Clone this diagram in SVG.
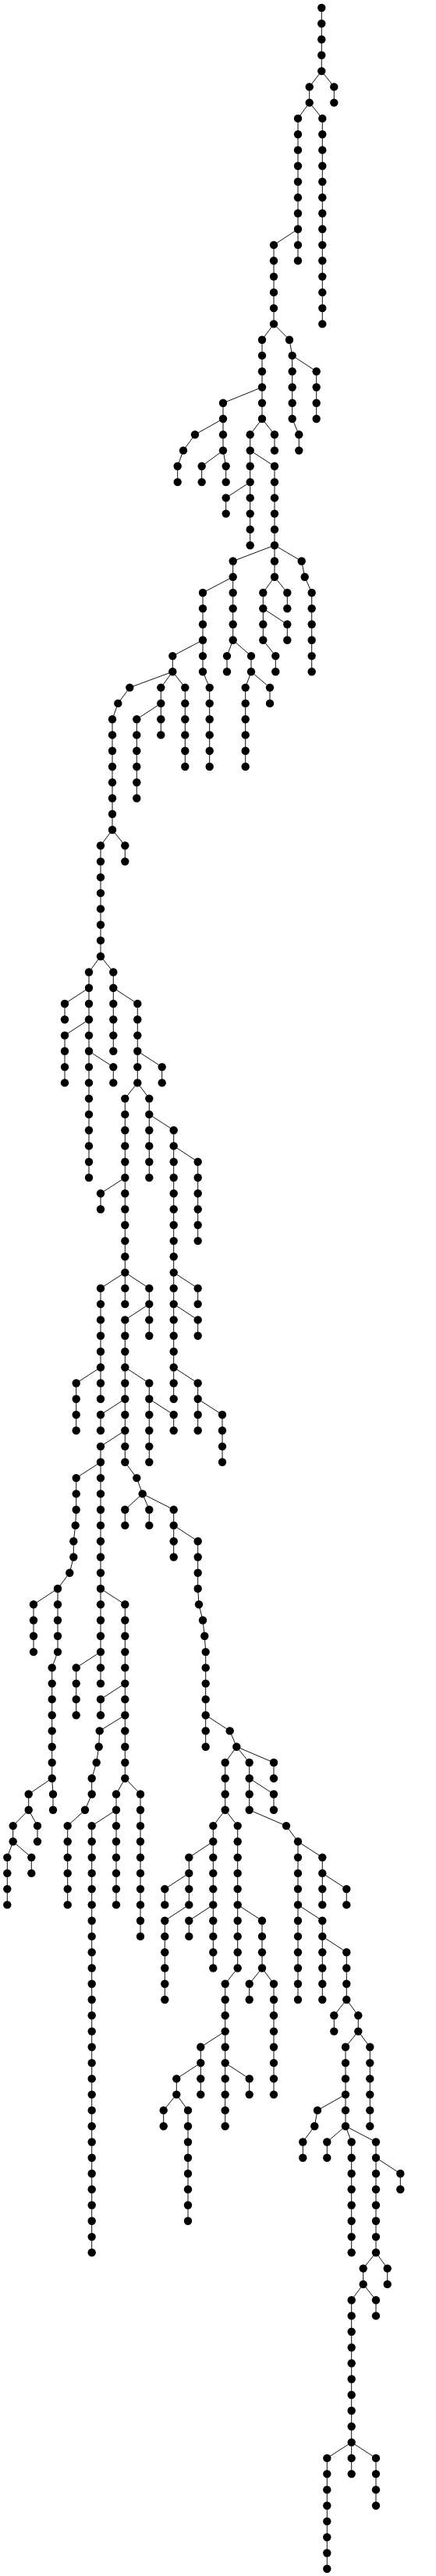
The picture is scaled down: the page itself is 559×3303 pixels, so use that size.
<svg xmlns="http://www.w3.org/2000/svg" width="559" height="3303" viewBox="0 0 559 3303">
<style>
#edges path{fill:none;stroke:#111;stroke-width:1}
#nodes circle{r:5.2px;fill:#000}
</style>
<rect width="559" height="3303" fill="#fff"/>
<g id="edges">
<path d="M412.3 10V30.3"/><path d="M412.3 30.3V50.5"/><path d="M412.3 50.5V70.8"/><path d="M412.3 70.8V91.1"/>
<path d="M412.3 91.1L396.7 111.4"/><path d="M396.7 111.4V131.6"/>
<path d="M412.3 91.1L428.3 111.4"/><path d="M428.3 111.4V131.6"/>
<path d="M396.7 131.6L382 151.9"/><path d="M382 151.9V172.2"/><path d="M382 172.2V192.4"/><path d="M382 192.4V212.7"/><path d="M382 212.7V233"/><path d="M382 233V253.2"/><path d="M382 253.2V273.5"/><path d="M382 273.5V293.8"/>
<path d="M396.7 131.6L413.3 151.9"/><path d="M413.3 151.9V172.2"/><path d="M413.3 172.2V192.4"/><path d="M413.3 192.4V212.7"/><path d="M413.3 212.7V233"/><path d="M413.3 233V253.2"/><path d="M413.3 253.2V273.5"/><path d="M413.3 273.5V293.8"/><path d="M413.3 293.8V314.1"/><path d="M413.3 314.1V334.3"/><path d="M413.3 334.3V354.6"/><path d="M413.3 354.6V374.9"/><path d="M413.3 374.9V395.1"/><path d="M413.3 395.1V415.4"/>
<path d="M382 293.8L351 314.1"/><path d="M351 314.1V334.3"/><path d="M351 334.3V354.6"/><path d="M351 354.6V374.9"/><path d="M351 374.9V395.1"/><path d="M351 395.1V415.4"/>
<path d="M382 293.8V314.1"/><path d="M382 314.1V334.3"/>
<path d="M351 415.4L336 435.7"/><path d="M336 435.7V455.9"/><path d="M336 455.9V476.2"/><path d="M336 476.2V496.5"/>
<path d="M351 415.4L371 435.7"/>
<path d="M371 435.7L374.7 455.9"/><path d="M374.7 455.9V476.2"/><path d="M374.7 476.2V496.5"/><path d="M374.7 496.5V516.8"/><path d="M374.7 516.8V537"/>
<path d="M374.7 455.9L405.7 476.2"/><path d="M405.7 476.2V496.5"/><path d="M405.7 496.5V516.8"/><path d="M405.7 516.8V537"/>
<path d="M374.7 537L383.3 557.3"/><path d="M383.3 557.3V577.6"/>
<path d="M336 496.5L286 516.8"/><path d="M286 516.8V537"/>
<path d="M336 496.5V516.8"/><path d="M336 516.8V537"/>
<path d="M286 537L250 557.3"/><path d="M250 557.3L235 577.6"/><path d="M235 577.6L227.7 597.8"/><path d="M227.7 597.8V618.1"/>
<path d="M286 537V557.3"/><path d="M286 557.3V577.6"/>
<path d="M286 577.6L258.7 597.8"/><path d="M258.7 597.8V618.1"/>
<path d="M286 577.6L289.7 597.8"/><path d="M289.7 597.8V618.1"/>
<path d="M336 537L320.7 557.3"/><path d="M320.7 557.3V577.6"/><path d="M320.7 577.6V597.8"/><path d="M320.7 597.8V618.1"/><path d="M320.7 618.1V638.4"/><path d="M320.7 638.4V658.6"/><path d="M320.7 658.6V678.9"/><path d="M320.7 678.9V699.2"/>
<path d="M336 537L352 557.3"/><path d="M352 557.3V577.6"/>
<path d="M320.7 577.6L352 597.8"/><path d="M352 597.8V618.1"/><path d="M352 618.1V638.4"/><path d="M352 638.4V658.6"/><path d="M352 658.6V678.9"/><path d="M352 678.9V699.2"/><path d="M352 699.2V719.5"/><path d="M352 719.5V739.7"/>
<path d="M320.7 618.1L289.7 638.4"/><path d="M289.7 638.4V658.6"/>
<path d="M352 699.2L298.7 719.5"/><path d="M298.7 719.5V739.7"/><path d="M298.7 739.7V760"/><path d="M298.7 760V780.3"/><path d="M298.7 780.3V800.5"/><path d="M298.7 800.5V820.8"/>
<path d="M352 699.2L386.7 719.5"/><path d="M386.7 719.5L390.7 739.7"/><path d="M390.7 739.7L399.7 760"/><path d="M399.7 760V780.3"/><path d="M399.7 780.3V800.5"/><path d="M399.7 800.5V820.8"/><path d="M399.7 820.8V841.1"/><path d="M399.7 841.1V861.3"/>
<path d="M352 739.7L337.3 760"/><path d="M337.3 760V780.3"/><path d="M337.3 780.3V800.5"/><path d="M337.3 800.5V820.8"/>
<path d="M352 739.7L368.3 760"/><path d="M368.3 760V780.3"/>
<path d="M337.3 780.3L368.3 800.5"/><path d="M368.3 800.5V820.8"/>
<path d="M337.3 820.8L353.3 841.1"/><path d="M353.3 841.1V861.3"/>
<path d="M298.7 739.7L260 760"/><path d="M260 760V780.3"/><path d="M260 780.3V800.5"/><path d="M260 800.5V820.8"/><path d="M260 820.8V841.1"/><path d="M260 841.1V861.3"/>
<path d="M298.7 820.8L291 841.1"/><path d="M291 841.1V861.3"/>
<path d="M298.7 820.8L322 841.1"/><path d="M322 841.1V861.3"/>
<path d="M322 861.3L314.7 881.6"/><path d="M314.7 881.6V901.9"/><path d="M314.7 901.9V922.2"/><path d="M314.7 922.2V942.4"/><path d="M314.7 942.4V962.7"/><path d="M314.7 962.7V983"/>
<path d="M322 861.3L346 881.6"/><path d="M346 881.6V901.9"/>
<path d="M260 861.3L268.7 881.6"/><path d="M268.7 881.6V901.9"/><path d="M268.7 901.9V922.2"/><path d="M268.7 922.2V942.4"/><path d="M268.7 942.4V962.7"/><path d="M268.7 962.7V983"/>
<path d="M260 820.8L221.3 841.1"/><path d="M221.3 841.1V861.3"/>
<path d="M221.3 861.3L166.3 881.6"/>
<path d="M221.3 861.3L206.3 881.6"/><path d="M206.3 881.6V901.9"/><path d="M206.3 901.9V922.2"/><path d="M206.3 922.2V942.4"/>
<path d="M221.3 861.3L237.3 881.6"/><path d="M237.3 881.6V901.9"/><path d="M237.3 901.9V922.2"/><path d="M237.3 922.2V942.4"/><path d="M237.3 942.4V962.7"/><path d="M237.3 962.7V983"/>
<path d="M206.3 901.9L175.3 922.2"/><path d="M175.3 922.2V942.4"/><path d="M175.3 942.4V962.7"/><path d="M175.3 962.7V983"/><path d="M175.3 983V1003.2"/><path d="M175.3 1003.2V1023.5"/>
<path d="M166.3 881.6L151.3 901.9"/><path d="M151.3 901.9L144 922.2"/><path d="M144 922.2V942.4"/><path d="M144 942.4V962.7"/><path d="M144 962.7V983"/><path d="M144 983V1003.2"/><path d="M144 1003.2V1023.5"/><path d="M144 1023.5V1043.8"/><path d="M144 1043.8V1064"/>
<path d="M144 1064L160.3 1084.3"/><path d="M160.3 1084.3V1104.6"/>
<path d="M144 1064L129 1084.3"/><path d="M129 1084.3V1104.6"/><path d="M129 1104.6V1124.9"/><path d="M129 1124.9V1145.1"/><path d="M129 1145.1V1165.4"/><path d="M129 1165.4V1185.7"/><path d="M129 1185.7V1205.9"/><path d="M129 1205.9V1226.2"/>
<path d="M129 1226.2L114 1246.5"/><path d="M114 1246.5V1266.7"/><path d="M114 1266.7V1287"/><path d="M114 1287V1307.3"/><path d="M114 1307.3V1327.6"/><path d="M114 1327.6V1347.8"/><path d="M114 1347.8V1368.1"/><path d="M114 1368.1V1388.4"/><path d="M114 1388.4V1408.6"/><path d="M114 1408.6V1428.9"/><path d="M114 1428.9V1449.2"/><path d="M114 1449.2V1469.4"/><path d="M114 1469.4V1489.7"/><path d="M114 1489.7V1510"/>
<path d="M114 1266.7L83 1287"/><path d="M83 1287V1307.3"/>
<path d="M114 1307.3L83 1327.6"/><path d="M83 1327.6V1347.8"/><path d="M83 1347.8V1368.1"/><path d="M83 1368.1V1388.4"/>
<path d="M114 1347.8L145.3 1368.1"/><path d="M145.3 1368.1V1388.4"/>
<path d="M129 1226.2L145.3 1246.5"/><path d="M145.3 1246.5V1266.7"/><path d="M145.3 1266.7V1287"/><path d="M145.3 1287V1307.3"/><path d="M145.3 1307.3V1327.6"/><path d="M145.3 1327.6V1347.8"/>
<path d="M145.3 1266.7L176.3 1287"/><path d="M176.3 1287V1307.3"/><path d="M176.3 1307.3V1327.6"/><path d="M176.3 1327.6V1347.8"/><path d="M176.3 1347.8V1368.1"/><path d="M176.3 1368.1V1388.4"/>
<path d="M176.3 1347.8L207.7 1368.1"/><path d="M207.7 1368.1V1388.4"/>
<path d="M176.3 1388.4L160.3 1408.6"/><path d="M160.3 1408.6V1428.9"/><path d="M160.3 1428.9V1449.2"/><path d="M160.3 1449.2V1469.4"/><path d="M160.3 1469.4V1489.7"/><path d="M160.3 1489.7V1510"/><path d="M160.3 1510V1530.3"/><path d="M160.3 1530.3V1550.5"/><path d="M160.3 1550.5V1570.8"/><path d="M160.3 1570.8V1591.1"/><path d="M160.3 1591.1V1611.3"/><path d="M160.3 1611.3V1631.6"/><path d="M160.3 1631.6V1651.9"/><path d="M160.3 1651.9V1672.1"/>
<path d="M160.3 1510L129 1530.3"/><path d="M129 1530.3V1550.5"/>
<path d="M160.3 1631.6L129 1651.9"/><path d="M129 1651.9V1672.1"/><path d="M129 1672.1V1692.4"/><path d="M129 1692.4V1712.7"/><path d="M129 1712.7V1733"/><path d="M129 1733V1753.2"/><path d="M129 1753.2V1773.5"/><path d="M129 1773.5V1793.8"/>
<path d="M160.3 1631.6L191.3 1651.9"/><path d="M191.3 1651.9V1672.1"/><path d="M191.3 1672.1V1692.4"/><path d="M191.3 1692.4V1712.7"/>
<path d="M191.3 1672.1L160.3 1692.4"/><path d="M160.3 1692.4V1712.7"/><path d="M160.3 1712.7V1733"/><path d="M160.3 1733V1753.2"/><path d="M160.3 1753.2V1773.5"/><path d="M160.3 1773.5V1793.8"/><path d="M160.3 1793.8V1814"/><path d="M160.3 1814V1834.3"/><path d="M160.3 1834.3V1854.6"/><path d="M160.3 1854.6V1874.8"/>
<path d="M160.3 1874.8L175.3 1895.1"/><path d="M175.3 1895.1L182.7 1915.4"/>
<path d="M129 1753.2L97.7 1773.5"/><path d="M97.7 1773.5V1793.8"/><path d="M97.7 1793.8V1814"/><path d="M97.7 1814V1834.3"/>
<path d="M160.3 1753.2L191.3 1773.5"/><path d="M191.3 1773.5V1793.8"/><path d="M191.3 1793.8V1814"/><path d="M191.3 1814V1834.3"/><path d="M191.3 1834.3V1854.6"/><path d="M191.3 1854.6V1874.8"/>
<path d="M191.3 1793.8L222.7 1814"/><path d="M222.7 1814V1834.3"/>
<path d="M160.3 1793.8L129 1814"/><path d="M129 1814V1834.3"/>
<path d="M160.3 1834.3L129 1854.6"/><path d="M129 1854.6V1874.8"/><path d="M129 1874.8V1895.1"/><path d="M129 1895.1V1915.4"/><path d="M129 1915.4V1935.7"/><path d="M129 1935.7V1955.9"/><path d="M129 1955.9V1976.2"/><path d="M129 1976.2V1996.5"/><path d="M129 1996.5V2016.7"/><path d="M129 2016.7V2037"/><path d="M129 2037V2057.3"/><path d="M129 2057.3V2077.5"/><path d="M129 2077.5V2097.8"/><path d="M129 2097.8V2118.1"/><path d="M129 2118.1V2138.4"/><path d="M129 2138.4V2158.6"/>
<path d="M129 1874.8L97.7 1895.1"/><path d="M97.7 1895.1V1915.4"/><path d="M97.7 1915.4V1935.7"/><path d="M97.7 1935.7L96.7 1955.9"/><path d="M96.7 1955.9L94.3 1976.2"/><path d="M94.3 1976.2V1996.5"/><path d="M94.3 1996.5L89.3 2016.7"/><path d="M89.3 2016.7L74 2037"/><path d="M74 2037V2057.3"/><path d="M74 2057.3V2077.5"/><path d="M74 2077.5V2097.8"/><path d="M74 2097.8V2118.1"/>
<path d="M74 2037L43 2057.3"/><path d="M43 2057.3V2077.5"/><path d="M43 2077.5V2097.8"/><path d="M43 2097.8V2118.1"/>
<path d="M74 2118.1L66.7 2138.4"/><path d="M66.7 2138.4V2158.6"/><path d="M66.7 2158.6V2178.9"/><path d="M66.7 2178.9V2199.2"/><path d="M66.7 2199.2V2219.4"/><path d="M66.7 2219.4V2239.7"/><path d="M66.7 2239.7V2260"/><path d="M66.7 2260V2280.2"/>
<path d="M66.7 2280.2L68 2300.5"/><path d="M68 2300.5V2320.8"/>
<path d="M66.7 2280.2L36.7 2300.5"/><path d="M36.7 2300.5V2320.8"/>
<path d="M36.7 2320.8L48 2341.1"/><path d="M48 2341.1V2361.3"/>
<path d="M36.7 2320.8L16.7 2341.1"/><path d="M16.7 2341.1V2361.3"/>
<path d="M16.7 2361.3L40.3 2381.6"/><path d="M40.3 2381.6V2401.9"/>
<path d="M16.7 2361.3L9.3 2381.6"/><path d="M9.3 2381.6V2401.9"/><path d="M9.3 2401.9V2422.1"/><path d="M9.3 2422.1V2442.4"/>
<path d="M129 2037L160.3 2057.3"/><path d="M160.3 2057.3V2077.5"/><path d="M160.3 2077.5V2097.8"/><path d="M160.3 2097.8V2118.1"/><path d="M160.3 2118.1V2138.4"/><path d="M160.3 2138.4V2158.6"/><path d="M160.3 2158.6V2178.9"/><path d="M160.3 2178.9V2199.2"/><path d="M160.3 2199.2V2219.4"/><path d="M160.3 2219.4V2239.7"/><path d="M160.3 2239.7V2260"/><path d="M160.3 2260V2280.2"/>
<path d="M129 2118.1L97.7 2138.4"/><path d="M97.7 2138.4V2158.6"/><path d="M97.7 2158.6V2178.9"/><path d="M97.7 2178.9V2199.2"/>
<path d="M160.3 2158.6L129 2178.9"/><path d="M129 2178.9V2199.2"/>
<path d="M160.3 2199.2L127.7 2219.4"/><path d="M127.7 2219.4L126.7 2239.7"/><path d="M126.7 2239.7L123.7 2260"/><path d="M123.7 2260L117.7 2280.2"/><path d="M117.7 2280.2V2300.5"/><path d="M117.7 2300.5L109 2320.8"/><path d="M109 2320.8L86.7 2341.1"/><path d="M86.7 2341.1V2361.3"/><path d="M86.7 2361.3V2381.6"/><path d="M86.7 2381.6V2401.9"/><path d="M86.7 2401.9V2422.1"/><path d="M86.7 2422.1V2442.4"/>
<path d="M160.3 2280.2L149 2300.5"/><path d="M149 2300.5V2320.8"/><path d="M149 2320.8V2341.1"/><path d="M149 2341.1V2361.3"/><path d="M149 2361.3V2381.6"/><path d="M149 2381.6V2401.9"/><path d="M149 2401.9V2422.1"/><path d="M149 2422.1V2442.4"/>
<path d="M160.3 2280.2L180 2300.5"/><path d="M180 2300.5V2320.8"/><path d="M180 2320.8V2341.1"/><path d="M180 2341.1V2361.3"/><path d="M180 2361.3V2381.6"/><path d="M180 2381.6V2401.9"/><path d="M180 2401.9V2422.1"/><path d="M180 2422.1V2442.4"/><path d="M180 2442.4V2462.7"/><path d="M180 2462.7V2482.9"/>
<path d="M149 2320.8L117.7 2341.1"/><path d="M117.7 2341.1V2361.3"/><path d="M117.7 2361.3V2381.6"/><path d="M117.7 2381.6V2401.9"/><path d="M117.7 2401.9V2422.1"/><path d="M117.7 2422.1V2442.4"/><path d="M117.7 2442.4V2462.7"/><path d="M117.7 2462.7V2482.9"/><path d="M117.7 2482.9V2503.2"/><path d="M117.7 2503.2V2523.5"/><path d="M117.7 2523.5V2543.8"/><path d="M117.7 2543.8V2564"/><path d="M117.7 2564V2584.3"/><path d="M117.7 2584.3V2604.6"/><path d="M117.7 2604.6V2624.8"/><path d="M117.7 2624.8V2645.1"/><path d="M117.7 2645.1V2665.4"/><path d="M117.7 2665.4V2685.6"/><path d="M117.7 2685.6V2705.9"/><path d="M117.7 2705.9V2726.2"/><path d="M117.7 2726.2V2746.5"/><path d="M117.7 2746.5V2766.7"/><path d="M117.7 2766.7V2787"/><path d="M117.7 2787V2807.3"/><path d="M117.7 2807.3V2827.5"/><path d="M117.7 2827.5V2847.8"/><path d="M117.7 2847.8V2868.1"/><path d="M117.7 2868.1V2888.3"/>
<path d="M191.3 1428.9L222.7 1449.2"/><path d="M222.7 1449.2V1469.4"/><path d="M222.7 1469.4V1489.7"/><path d="M222.7 1489.7V1510"/><path d="M222.7 1510V1530.3"/><path d="M222.7 1530.3V1550.5"/><path d="M222.7 1550.5V1570.8"/><path d="M222.7 1570.8V1591.1"/><path d="M222.7 1591.1V1611.3"/><path d="M222.7 1611.3V1631.6"/><path d="M222.7 1631.6V1651.9"/><path d="M222.7 1651.9V1672.1"/><path d="M222.7 1672.1V1692.4"/><path d="M222.7 1692.4V1712.7"/><path d="M222.7 1712.7V1733"/><path d="M222.7 1733V1753.2"/><path d="M222.7 1753.2V1773.5"/><path d="M222.7 1773.5V1793.8"/>
<path d="M176.3 1388.4L191.3 1408.6"/><path d="M191.3 1408.6V1428.9"/><path d="M191.3 1428.9V1449.2"/><path d="M191.3 1449.2V1469.4"/><path d="M191.3 1469.4V1489.7"/><path d="M191.3 1489.7V1510"/>
<path d="M222.7 1469.4L253.7 1489.7"/><path d="M253.7 1489.7V1510"/><path d="M253.7 1510V1530.3"/><path d="M253.7 1530.3V1550.5"/><path d="M253.7 1550.5V1570.8"/><path d="M253.7 1570.8V1591.1"/>
<path d="M222.7 1631.6L253.7 1651.9"/><path d="M253.7 1651.9V1672.1"/>
<path d="M222.7 1672.1L253.7 1692.4"/><path d="M253.7 1692.4V1712.7"/>
<path d="M222.7 1753.2L253.7 1773.5"/><path d="M253.7 1773.5V1793.8"/><path d="M253.7 1793.8V1814"/><path d="M253.7 1814V1834.3"/>
<path d="M253.7 1793.8L285 1814"/><path d="M285 1814V1834.3"/><path d="M285 1834.3V1854.6"/><path d="M285 1854.6V1874.8"/>
<path d="M182.7 1915.4L160.3 1935.7"/><path d="M160.3 1935.7V1955.9"/>
<path d="M182.7 1915.4L191.3 1935.7"/><path d="M191.3 1935.7V1955.9"/>
<path d="M182.7 1915.4L222.7 1935.7"/><path d="M222.7 1935.7V1955.9"/><path d="M222.7 1955.9V1976.2"/><path d="M222.7 1976.2V1996.5"/>
<path d="M222.7 1955.9L253.7 1976.2"/><path d="M253.7 1976.2V1996.5"/><path d="M253.7 1996.5V2016.7"/><path d="M253.7 2016.7V2037"/><path d="M253.7 2037L255 2057.3"/><path d="M255 2057.3L260 2077.5"/><path d="M260 2077.5L262.3 2097.8"/><path d="M262.3 2097.8L263.7 2118.1"/><path d="M263.7 2118.1V2138.4"/><path d="M263.7 2138.4V2158.6"/><path d="M263.7 2158.6V2178.9"/><path d="M263.7 2178.9V2199.2"/><path d="M263.7 2199.2V2219.4"/><path d="M263.7 2219.4V2239.7"/>
<path d="M263.7 2199.2L294.7 2219.4"/><path d="M294.7 2219.4L303.3 2239.7"/>
<path d="M303.3 2239.7L288.7 2260"/><path d="M288.7 2260V2280.2"/><path d="M288.7 2280.2V2300.5"/><path d="M288.7 2300.5V2320.8"/>
<path d="M303.3 2239.7L319.7 2260"/><path d="M319.7 2260V2280.2"/><path d="M319.7 2280.2V2300.5"/><path d="M319.7 2300.5V2320.8"/>
<path d="M303.3 2239.7L351 2260"/><path d="M351 2260V2280.2"/>
<path d="M319.7 2280.2L351 2300.5"/><path d="M351 2300.5V2320.8"/>
<path d="M319.7 2320.8L367 2341.1"/><path d="M367 2341.1L382 2361.3"/><path d="M382 2361.3V2381.6"/><path d="M382 2381.6V2401.9"/><path d="M382 2401.9V2422.1"/><path d="M382 2422.1V2442.4"/><path d="M382 2442.4V2462.7"/><path d="M382 2462.7V2482.9"/><path d="M382 2482.9V2503.2"/><path d="M382 2503.2V2523.5"/><path d="M382 2523.5V2543.8"/><path d="M382 2543.8V2564"/>
<path d="M382 2361.3L413.3 2381.6"/><path d="M413.3 2381.6V2401.9"/><path d="M413.3 2401.9V2422.1"/><path d="M413.3 2422.1V2442.4"/>
<path d="M413.3 2401.9L444.3 2422.1"/><path d="M444.3 2422.1V2442.4"/>
<path d="M382 2442.4L413.3 2462.7"/><path d="M413.3 2462.7V2482.9"/><path d="M413.3 2482.9V2503.2"/><path d="M413.3 2503.2V2523.5"/><path d="M413.3 2523.5V2543.8"/><path d="M413.3 2543.8V2564"/>
<path d="M413.3 2482.9L444.3 2503.2"/><path d="M444.3 2503.2V2523.5"/><path d="M444.3 2523.5V2543.8"/><path d="M444.3 2543.8V2564"/>
<path d="M444.3 2564L428.3 2584.3"/><path d="M428.3 2584.3V2604.6"/>
<path d="M444.3 2564L459.3 2584.3"/><path d="M459.3 2584.3V2604.6"/>
<path d="M459.3 2604.6L474.3 2624.8"/><path d="M474.3 2624.8V2645.1"/><path d="M474.3 2645.1V2665.4"/><path d="M474.3 2665.4V2685.6"/><path d="M474.3 2685.6V2705.9"/><path d="M474.3 2705.9V2726.2"/>
<path d="M459.3 2604.6L443 2624.8"/><path d="M443 2624.8V2645.1"/><path d="M443 2645.1V2665.4"/><path d="M443 2665.4V2685.6"/><path d="M443 2685.6V2705.9"/><path d="M443 2705.9V2726.2"/>
<path d="M443 2685.6L407 2705.9"/><path d="M407 2705.9L403.3 2726.2"/><path d="M403.3 2726.2L388.3 2746.5"/><path d="M388.3 2746.5V2766.7"/>
<path d="M443 2726.2L419.3 2746.5"/><path d="M419.3 2746.5V2766.7"/>
<path d="M443 2726.2L450.7 2746.5"/><path d="M450.7 2746.5V2766.7"/><path d="M450.7 2766.7V2787"/><path d="M450.7 2787V2807.3"/><path d="M450.7 2807.3V2827.5"/><path d="M450.7 2827.5V2847.8"/><path d="M450.7 2847.8V2868.1"/><path d="M450.7 2868.1V2888.3"/>
<path d="M443 2726.2L482 2746.5"/><path d="M482 2746.5V2766.7"/><path d="M482 2766.7V2787"/><path d="M482 2787V2807.3"/><path d="M482 2807.3V2827.5"/><path d="M482 2827.5V2847.8"/><path d="M482 2847.8V2868.1"/><path d="M482 2868.1V2888.3"/>
<path d="M482 2766.7L513.3 2787"/><path d="M513.3 2787V2807.3"/>
<path d="M482 2888.3L465.7 2908.6"/><path d="M465.7 2908.6V2928.9"/>
<path d="M482 2888.3L496.7 2908.6"/><path d="M496.7 2908.6V2928.9"/>
<path d="M465.7 2928.9L450.7 2949.2"/><path d="M450.7 2949.2V2969.4"/><path d="M450.7 2969.4V2989.7"/><path d="M450.7 2989.7V3010"/><path d="M450.7 3010V3030.2"/><path d="M450.7 3030.2V3050.5"/><path d="M450.7 3050.5V3070.8"/><path d="M450.7 3070.8V3091"/><path d="M450.7 3091V3111.3"/><path d="M450.7 3111.3V3131.6"/>
<path d="M465.7 2928.9L482 2949.2"/><path d="M482 2949.2V2969.4"/>
<path d="M450.7 3131.6L419.3 3151.9"/><path d="M419.3 3151.9V3172.1"/><path d="M419.3 3172.1V3192.4"/><path d="M419.3 3192.4V3212.7"/><path d="M419.3 3212.7V3232.9"/><path d="M419.3 3232.9V3253.2"/><path d="M419.3 3253.2V3273.5"/><path d="M419.3 3273.5V3293.7"/>
<path d="M450.7 3131.6V3151.9"/><path d="M450.7 3151.9V3172.1"/>
<path d="M450.7 3131.6L482 3151.9"/><path d="M482 3151.9V3172.1"/><path d="M482 3172.1V3192.4"/><path d="M482 3192.4V3212.7"/>
<path d="M288.7 2320.8L273.3 2341.1"/><path d="M273.3 2341.1V2361.3"/><path d="M273.3 2361.3V2381.6"/><path d="M273.3 2381.6V2401.9"/><path d="M273.3 2401.9V2422.1"/><path d="M273.3 2422.1V2442.4"/><path d="M273.3 2442.4V2462.7"/><path d="M273.3 2462.7V2482.9"/><path d="M273.3 2482.9V2503.2"/><path d="M273.3 2503.2V2523.5"/>
<path d="M288.7 2320.8L304.7 2341.1"/><path d="M304.7 2341.1V2361.3"/><path d="M304.7 2361.3V2381.6"/><path d="M304.7 2381.6V2401.9"/><path d="M304.7 2401.9V2422.1"/><path d="M304.7 2422.1V2442.4"/><path d="M304.7 2442.4V2462.7"/><path d="M304.7 2462.7V2482.9"/><path d="M304.7 2482.9V2503.2"/><path d="M304.7 2503.2V2523.5"/>
<path d="M304.7 2442.4L336 2462.7"/><path d="M336 2462.7V2482.9"/><path d="M336 2482.9V2503.2"/><path d="M336 2503.2V2523.5"/>
<path d="M336 2523.5L319.7 2543.8"/><path d="M319.7 2543.8V2564"/>
<path d="M336 2523.5L351 2543.8"/><path d="M351 2543.8V2564"/><path d="M351 2564V2584.3"/><path d="M351 2584.3V2604.6"/><path d="M351 2604.6V2624.8"/><path d="M351 2624.8V2645.1"/><path d="M351 2645.1V2665.4"/><path d="M351 2665.4V2685.6"/>
<path d="M304.7 2523.5L288.7 2543.8"/><path d="M288.7 2543.8V2564"/><path d="M288.7 2564V2584.3"/><path d="M288.7 2584.3V2604.6"/><path d="M288.7 2604.6V2624.8"/><path d="M288.7 2624.8V2645.1"/><path d="M288.7 2645.1V2665.4"/><path d="M288.7 2665.4V2685.6"/><path d="M288.7 2685.6V2705.9"/><path d="M288.7 2705.9V2726.2"/>
<path d="M288.7 2604.6L257.3 2624.8"/><path d="M257.3 2624.8V2645.1"/><path d="M257.3 2645.1V2665.4"/><path d="M257.3 2665.4V2685.6"/>
<path d="M288.7 2645.1L319.7 2665.4"/><path d="M319.7 2665.4V2685.6"/>
<path d="M257.3 2645.1L226.3 2665.4"/><path d="M226.3 2665.4V2685.6"/>
<path d="M226.3 2685.6L209.7 2705.9"/><path d="M209.7 2705.9V2726.2"/>
<path d="M226.3 2685.6L241 2705.9"/><path d="M241 2705.9V2726.2"/><path d="M241 2726.2V2746.5"/><path d="M241 2746.5V2766.7"/><path d="M241 2766.7V2787"/><path d="M241 2787V2807.3"/><path d="M241 2807.3V2827.5"/><path d="M241 2827.5V2847.8"/>
<path d="M273.3 2361.3L242.3 2381.6"/><path d="M242.3 2381.6V2401.9"/><path d="M242.3 2401.9V2422.1"/><path d="M242.3 2422.1V2442.4"/>
<path d="M242.3 2401.9L211.3 2422.1"/><path d="M211.3 2422.1V2442.4"/>
<path d="M242.3 2442.4L211.3 2462.7"/><path d="M211.3 2462.7V2482.9"/><path d="M211.3 2482.9V2503.2"/><path d="M211.3 2503.2V2523.5"/><path d="M211.3 2523.5V2543.8"/><path d="M211.3 2543.8V2564"/>
<path d="M273.3 2442.4L242.3 2462.7"/><path d="M242.3 2462.7V2482.9"/>
</g>
<g id="nodes">
<g id="c1r0"><circle cx="412.3" cy="10"/></g><g id="c1r1"><circle cx="412.3" cy="30.3"/></g><g id="c1r2"><circle cx="412.3" cy="50.5"/></g><g id="c1r3"><circle cx="412.3" cy="70.8"/></g><g id="c1r4"><circle cx="412.3" cy="91.1"/></g>
<g id="c2r5"><circle cx="396.7" cy="111.4"/></g><g id="c2r6"><circle cx="396.7" cy="131.6"/></g>
<g id="c3r5"><circle cx="428.3" cy="111.4"/></g><g id="c3r6"><circle cx="428.3" cy="131.6"/></g>
<g id="c4r7"><circle cx="382" cy="151.9"/></g><g id="c4r8"><circle cx="382" cy="172.2"/></g><g id="c4r9"><circle cx="382" cy="192.4"/></g><g id="c4r10"><circle cx="382" cy="212.7"/></g><g id="c4r11"><circle cx="382" cy="233"/></g><g id="c4r12"><circle cx="382" cy="253.2"/></g><g id="c4r13"><circle cx="382" cy="273.5"/></g><g id="c4r14"><circle cx="382" cy="293.8"/></g>
<g id="c5r7"><circle cx="413.3" cy="151.9"/></g><g id="c5r8"><circle cx="413.3" cy="172.2"/></g><g id="c5r9"><circle cx="413.3" cy="192.4"/></g><g id="c5r10"><circle cx="413.3" cy="212.7"/></g><g id="c5r11"><circle cx="413.3" cy="233"/></g><g id="c5r12"><circle cx="413.3" cy="253.2"/></g><g id="c5r13"><circle cx="413.3" cy="273.5"/></g><g id="c5r14"><circle cx="413.3" cy="293.8"/></g><g id="c5r15"><circle cx="413.3" cy="314.1"/></g><g id="c5r16"><circle cx="413.3" cy="334.3"/></g><g id="c5r17"><circle cx="413.3" cy="354.6"/></g><g id="c5r18"><circle cx="413.3" cy="374.9"/></g><g id="c5r19"><circle cx="413.3" cy="395.1"/></g><g id="c5r20"><circle cx="413.3" cy="415.4"/></g>
<g id="c6r15"><circle cx="351" cy="314.1"/></g><g id="c6r16"><circle cx="351" cy="334.3"/></g><g id="c6r17"><circle cx="351" cy="354.6"/></g><g id="c6r18"><circle cx="351" cy="374.9"/></g><g id="c6r19"><circle cx="351" cy="395.1"/></g><g id="c6r20"><circle cx="351" cy="415.4"/></g>
<g id="c7r15"><circle cx="382" cy="314.1"/></g><g id="c7r16"><circle cx="382" cy="334.3"/></g>
<g id="c8r21"><circle cx="336" cy="435.7"/></g><g id="c8r22"><circle cx="336" cy="455.9"/></g><g id="c8r23"><circle cx="336" cy="476.2"/></g><g id="c8r24"><circle cx="336" cy="496.5"/></g>
<g id="c9r21"><circle cx="371" cy="435.7"/></g>
<g id="c10r22"><circle cx="374.7" cy="455.9"/></g><g id="c10r23"><circle cx="374.7" cy="476.2"/></g><g id="c10r24"><circle cx="374.7" cy="496.5"/></g><g id="c10r25"><circle cx="374.7" cy="516.8"/></g><g id="c10r26"><circle cx="374.7" cy="537"/></g>
<g id="c11r23"><circle cx="405.7" cy="476.2"/></g><g id="c11r24"><circle cx="405.7" cy="496.5"/></g><g id="c11r25"><circle cx="405.7" cy="516.8"/></g><g id="c11r26"><circle cx="405.7" cy="537"/></g>
<g id="c12r27"><circle cx="383.3" cy="557.3"/></g><g id="c12r28"><circle cx="383.3" cy="577.6"/></g>
<g id="c13r25"><circle cx="286" cy="516.8"/></g><g id="c13r26"><circle cx="286" cy="537"/></g>
<g id="c14r25"><circle cx="336" cy="516.8"/></g><g id="c14r26"><circle cx="336" cy="537"/></g>
<g id="c15r27"><circle cx="250" cy="557.3"/></g>
<g id="c16r28"><circle cx="235" cy="577.6"/></g>
<g id="c17r29"><circle cx="227.7" cy="597.8"/></g><g id="c17r30"><circle cx="227.7" cy="618.1"/></g>
<g id="c18r27"><circle cx="286" cy="557.3"/></g><g id="c18r28"><circle cx="286" cy="577.6"/></g>
<g id="c19r29"><circle cx="258.7" cy="597.8"/></g><g id="c19r30"><circle cx="258.7" cy="618.1"/></g>
<g id="c20r29"><circle cx="289.7" cy="597.8"/></g><g id="c20r30"><circle cx="289.7" cy="618.1"/></g>
<g id="c21r27"><circle cx="320.7" cy="557.3"/></g><g id="c21r28"><circle cx="320.7" cy="577.6"/></g><g id="c21r29"><circle cx="320.7" cy="597.8"/></g><g id="c21r30"><circle cx="320.7" cy="618.1"/></g><g id="c21r31"><circle cx="320.7" cy="638.4"/></g><g id="c21r32"><circle cx="320.7" cy="658.6"/></g><g id="c21r33"><circle cx="320.7" cy="678.9"/></g><g id="c21r34"><circle cx="320.7" cy="699.2"/></g>
<g id="c22r27"><circle cx="352" cy="557.3"/></g><g id="c22r28"><circle cx="352" cy="577.6"/></g>
<g id="c23r29"><circle cx="352" cy="597.8"/></g><g id="c23r30"><circle cx="352" cy="618.1"/></g><g id="c23r31"><circle cx="352" cy="638.4"/></g><g id="c23r32"><circle cx="352" cy="658.6"/></g><g id="c23r33"><circle cx="352" cy="678.9"/></g><g id="c23r34"><circle cx="352" cy="699.2"/></g><g id="c23r35"><circle cx="352" cy="719.5"/></g><g id="c23r36"><circle cx="352" cy="739.7"/></g>
<g id="c24r31"><circle cx="289.7" cy="638.4"/></g><g id="c24r32"><circle cx="289.7" cy="658.6"/></g>
<g id="c25r35"><circle cx="298.7" cy="719.5"/></g><g id="c25r36"><circle cx="298.7" cy="739.7"/></g><g id="c25r37"><circle cx="298.7" cy="760"/></g><g id="c25r38"><circle cx="298.7" cy="780.3"/></g><g id="c25r39"><circle cx="298.7" cy="800.5"/></g><g id="c25r40"><circle cx="298.7" cy="820.8"/></g>
<g id="c26r35"><circle cx="386.7" cy="719.5"/></g>
<g id="c27r36"><circle cx="390.7" cy="739.7"/></g>
<g id="c28r37"><circle cx="399.7" cy="760"/></g><g id="c28r38"><circle cx="399.7" cy="780.3"/></g><g id="c28r39"><circle cx="399.7" cy="800.5"/></g><g id="c28r40"><circle cx="399.7" cy="820.8"/></g><g id="c28r41"><circle cx="399.7" cy="841.1"/></g><g id="c28r42"><circle cx="399.7" cy="861.3"/></g>
<g id="c29r37"><circle cx="337.3" cy="760"/></g><g id="c29r38"><circle cx="337.3" cy="780.3"/></g><g id="c29r39"><circle cx="337.3" cy="800.5"/></g><g id="c29r40"><circle cx="337.3" cy="820.8"/></g>
<g id="c30r37"><circle cx="368.3" cy="760"/></g><g id="c30r38"><circle cx="368.3" cy="780.3"/></g>
<g id="c31r39"><circle cx="368.3" cy="800.5"/></g><g id="c31r40"><circle cx="368.3" cy="820.8"/></g>
<g id="c32r41"><circle cx="353.3" cy="841.1"/></g><g id="c32r42"><circle cx="353.3" cy="861.3"/></g>
<g id="c33r37"><circle cx="260" cy="760"/></g><g id="c33r38"><circle cx="260" cy="780.3"/></g><g id="c33r39"><circle cx="260" cy="800.5"/></g><g id="c33r40"><circle cx="260" cy="820.8"/></g><g id="c33r41"><circle cx="260" cy="841.1"/></g><g id="c33r42"><circle cx="260" cy="861.3"/></g>
<g id="c34r41"><circle cx="291" cy="841.1"/></g><g id="c34r42"><circle cx="291" cy="861.3"/></g>
<g id="c35r41"><circle cx="322" cy="841.1"/></g><g id="c35r42"><circle cx="322" cy="861.3"/></g>
<g id="c36r43"><circle cx="314.7" cy="881.6"/></g><g id="c36r44"><circle cx="314.7" cy="901.9"/></g><g id="c36r45"><circle cx="314.7" cy="922.2"/></g><g id="c36r46"><circle cx="314.7" cy="942.4"/></g><g id="c36r47"><circle cx="314.7" cy="962.7"/></g><g id="c36r48"><circle cx="314.7" cy="983"/></g>
<g id="c37r43"><circle cx="346" cy="881.6"/></g><g id="c37r44"><circle cx="346" cy="901.9"/></g>
<g id="c38r43"><circle cx="268.7" cy="881.6"/></g><g id="c38r44"><circle cx="268.7" cy="901.9"/></g><g id="c38r45"><circle cx="268.7" cy="922.2"/></g><g id="c38r46"><circle cx="268.7" cy="942.4"/></g><g id="c38r47"><circle cx="268.7" cy="962.7"/></g><g id="c38r48"><circle cx="268.7" cy="983"/></g>
<g id="c39r41"><circle cx="221.3" cy="841.1"/></g><g id="c39r42"><circle cx="221.3" cy="861.3"/></g>
<g id="c40r43"><circle cx="166.3" cy="881.6"/></g>
<g id="c41r43"><circle cx="206.3" cy="881.6"/></g><g id="c41r44"><circle cx="206.3" cy="901.9"/></g><g id="c41r45"><circle cx="206.3" cy="922.2"/></g><g id="c41r46"><circle cx="206.3" cy="942.4"/></g>
<g id="c42r43"><circle cx="237.3" cy="881.6"/></g><g id="c42r44"><circle cx="237.3" cy="901.9"/></g><g id="c42r45"><circle cx="237.3" cy="922.2"/></g><g id="c42r46"><circle cx="237.3" cy="942.4"/></g><g id="c42r47"><circle cx="237.3" cy="962.7"/></g><g id="c42r48"><circle cx="237.3" cy="983"/></g>
<g id="c43r45"><circle cx="175.3" cy="922.2"/></g><g id="c43r46"><circle cx="175.3" cy="942.4"/></g><g id="c43r47"><circle cx="175.3" cy="962.7"/></g><g id="c43r48"><circle cx="175.3" cy="983"/></g><g id="c43r49"><circle cx="175.3" cy="1003.2"/></g><g id="c43r50"><circle cx="175.3" cy="1023.5"/></g>
<g id="c44r44"><circle cx="151.3" cy="901.9"/></g>
<g id="c45r45"><circle cx="144" cy="922.2"/></g><g id="c45r46"><circle cx="144" cy="942.4"/></g><g id="c45r47"><circle cx="144" cy="962.7"/></g><g id="c45r48"><circle cx="144" cy="983"/></g><g id="c45r49"><circle cx="144" cy="1003.2"/></g><g id="c45r50"><circle cx="144" cy="1023.5"/></g><g id="c45r51"><circle cx="144" cy="1043.8"/></g><g id="c45r52"><circle cx="144" cy="1064"/></g>
<g id="c46r53"><circle cx="160.3" cy="1084.3"/></g><g id="c46r54"><circle cx="160.3" cy="1104.6"/></g>
<g id="c47r53"><circle cx="129" cy="1084.3"/></g><g id="c47r54"><circle cx="129" cy="1104.6"/></g><g id="c47r55"><circle cx="129" cy="1124.9"/></g><g id="c47r56"><circle cx="129" cy="1145.1"/></g><g id="c47r57"><circle cx="129" cy="1165.4"/></g><g id="c47r58"><circle cx="129" cy="1185.7"/></g><g id="c47r59"><circle cx="129" cy="1205.9"/></g><g id="c47r60"><circle cx="129" cy="1226.2"/></g>
<g id="c48r61"><circle cx="114" cy="1246.5"/></g><g id="c48r62"><circle cx="114" cy="1266.7"/></g><g id="c48r63"><circle cx="114" cy="1287"/></g><g id="c48r64"><circle cx="114" cy="1307.3"/></g><g id="c48r65"><circle cx="114" cy="1327.6"/></g><g id="c48r66"><circle cx="114" cy="1347.8"/></g><g id="c48r67"><circle cx="114" cy="1368.1"/></g><g id="c48r68"><circle cx="114" cy="1388.4"/></g><g id="c48r69"><circle cx="114" cy="1408.6"/></g><g id="c48r70"><circle cx="114" cy="1428.9"/></g><g id="c48r71"><circle cx="114" cy="1449.2"/></g><g id="c48r72"><circle cx="114" cy="1469.4"/></g><g id="c48r73"><circle cx="114" cy="1489.7"/></g><g id="c48r74"><circle cx="114" cy="1510"/></g>
<g id="c49r63"><circle cx="83" cy="1287"/></g><g id="c49r64"><circle cx="83" cy="1307.3"/></g>
<g id="c50r65"><circle cx="83" cy="1327.6"/></g><g id="c50r66"><circle cx="83" cy="1347.8"/></g><g id="c50r67"><circle cx="83" cy="1368.1"/></g><g id="c50r68"><circle cx="83" cy="1388.4"/></g>
<g id="c51r67"><circle cx="145.3" cy="1368.1"/></g><g id="c51r68"><circle cx="145.3" cy="1388.4"/></g>
<g id="c52r61"><circle cx="145.3" cy="1246.5"/></g><g id="c52r62"><circle cx="145.3" cy="1266.7"/></g><g id="c52r63"><circle cx="145.3" cy="1287"/></g><g id="c52r64"><circle cx="145.3" cy="1307.3"/></g><g id="c52r65"><circle cx="145.3" cy="1327.6"/></g><g id="c52r66"><circle cx="145.3" cy="1347.8"/></g>
<g id="c53r63"><circle cx="176.3" cy="1287"/></g><g id="c53r64"><circle cx="176.3" cy="1307.3"/></g><g id="c53r65"><circle cx="176.3" cy="1327.6"/></g><g id="c53r66"><circle cx="176.3" cy="1347.8"/></g><g id="c53r67"><circle cx="176.3" cy="1368.1"/></g><g id="c53r68"><circle cx="176.3" cy="1388.4"/></g>
<g id="c54r67"><circle cx="207.7" cy="1368.1"/></g><g id="c54r68"><circle cx="207.7" cy="1388.4"/></g>
<g id="c55r69"><circle cx="160.3" cy="1408.6"/></g><g id="c55r70"><circle cx="160.3" cy="1428.9"/></g><g id="c55r71"><circle cx="160.3" cy="1449.2"/></g><g id="c55r72"><circle cx="160.3" cy="1469.4"/></g><g id="c55r73"><circle cx="160.3" cy="1489.7"/></g><g id="c55r74"><circle cx="160.3" cy="1510"/></g><g id="c55r75"><circle cx="160.3" cy="1530.3"/></g><g id="c55r76"><circle cx="160.3" cy="1550.5"/></g><g id="c55r77"><circle cx="160.3" cy="1570.8"/></g><g id="c55r78"><circle cx="160.3" cy="1591.1"/></g><g id="c55r79"><circle cx="160.3" cy="1611.3"/></g><g id="c55r80"><circle cx="160.3" cy="1631.6"/></g><g id="c55r81"><circle cx="160.3" cy="1651.9"/></g><g id="c55r82"><circle cx="160.3" cy="1672.1"/></g>
<g id="c56r75"><circle cx="129" cy="1530.3"/></g><g id="c56r76"><circle cx="129" cy="1550.5"/></g>
<g id="c57r81"><circle cx="129" cy="1651.9"/></g><g id="c57r82"><circle cx="129" cy="1672.1"/></g><g id="c57r83"><circle cx="129" cy="1692.4"/></g><g id="c57r84"><circle cx="129" cy="1712.7"/></g><g id="c57r85"><circle cx="129" cy="1733"/></g><g id="c57r86"><circle cx="129" cy="1753.2"/></g><g id="c57r87"><circle cx="129" cy="1773.5"/></g><g id="c57r88"><circle cx="129" cy="1793.8"/></g>
<g id="c58r81"><circle cx="191.3" cy="1651.9"/></g><g id="c58r82"><circle cx="191.3" cy="1672.1"/></g><g id="c58r83"><circle cx="191.3" cy="1692.4"/></g><g id="c58r84"><circle cx="191.3" cy="1712.7"/></g>
<g id="c59r83"><circle cx="160.3" cy="1692.4"/></g><g id="c59r84"><circle cx="160.3" cy="1712.7"/></g><g id="c59r85"><circle cx="160.3" cy="1733"/></g><g id="c59r86"><circle cx="160.3" cy="1753.2"/></g><g id="c59r87"><circle cx="160.3" cy="1773.5"/></g><g id="c59r88"><circle cx="160.3" cy="1793.8"/></g><g id="c59r89"><circle cx="160.3" cy="1814"/></g><g id="c59r90"><circle cx="160.3" cy="1834.3"/></g><g id="c59r91"><circle cx="160.3" cy="1854.6"/></g><g id="c59r92"><circle cx="160.3" cy="1874.8"/></g>
<g id="c60r93"><circle cx="175.3" cy="1895.1"/></g>
<g id="c61r94"><circle cx="182.7" cy="1915.4"/></g>
<g id="c62r87"><circle cx="97.7" cy="1773.5"/></g><g id="c62r88"><circle cx="97.7" cy="1793.8"/></g><g id="c62r89"><circle cx="97.7" cy="1814"/></g><g id="c62r90"><circle cx="97.7" cy="1834.3"/></g>
<g id="c63r87"><circle cx="191.3" cy="1773.5"/></g><g id="c63r88"><circle cx="191.3" cy="1793.8"/></g><g id="c63r89"><circle cx="191.3" cy="1814"/></g><g id="c63r90"><circle cx="191.3" cy="1834.3"/></g><g id="c63r91"><circle cx="191.3" cy="1854.6"/></g><g id="c63r92"><circle cx="191.3" cy="1874.8"/></g>
<g id="c64r89"><circle cx="222.7" cy="1814"/></g><g id="c64r90"><circle cx="222.7" cy="1834.3"/></g>
<g id="c65r89"><circle cx="129" cy="1814"/></g><g id="c65r90"><circle cx="129" cy="1834.3"/></g>
<g id="c66r91"><circle cx="129" cy="1854.6"/></g><g id="c66r92"><circle cx="129" cy="1874.8"/></g><g id="c66r93"><circle cx="129" cy="1895.1"/></g><g id="c66r94"><circle cx="129" cy="1915.4"/></g><g id="c66r95"><circle cx="129" cy="1935.7"/></g><g id="c66r96"><circle cx="129" cy="1955.9"/></g><g id="c66r97"><circle cx="129" cy="1976.2"/></g><g id="c66r98"><circle cx="129" cy="1996.5"/></g><g id="c66r99"><circle cx="129" cy="2016.7"/></g><g id="c66r100"><circle cx="129" cy="2037"/></g><g id="c66r101"><circle cx="129" cy="2057.3"/></g><g id="c66r102"><circle cx="129" cy="2077.5"/></g><g id="c66r103"><circle cx="129" cy="2097.8"/></g><g id="c66r104"><circle cx="129" cy="2118.1"/></g><g id="c66r105"><circle cx="129" cy="2138.4"/></g><g id="c66r106"><circle cx="129" cy="2158.6"/></g>
<g id="c67r93"><circle cx="97.7" cy="1895.1"/></g><g id="c67r94"><circle cx="97.7" cy="1915.4"/></g><g id="c67r95"><circle cx="97.7" cy="1935.7"/></g>
<g id="c68r96"><circle cx="96.7" cy="1955.9"/></g>
<g id="c69r97"><circle cx="94.3" cy="1976.2"/></g><g id="c69r98"><circle cx="94.3" cy="1996.5"/></g>
<g id="c70r99"><circle cx="89.3" cy="2016.7"/></g>
<g id="c71r100"><circle cx="74" cy="2037"/></g><g id="c71r101"><circle cx="74" cy="2057.3"/></g><g id="c71r102"><circle cx="74" cy="2077.5"/></g><g id="c71r103"><circle cx="74" cy="2097.8"/></g><g id="c71r104"><circle cx="74" cy="2118.1"/></g>
<g id="c72r101"><circle cx="43" cy="2057.3"/></g><g id="c72r102"><circle cx="43" cy="2077.5"/></g><g id="c72r103"><circle cx="43" cy="2097.8"/></g><g id="c72r104"><circle cx="43" cy="2118.1"/></g>
<g id="c73r105"><circle cx="66.7" cy="2138.4"/></g><g id="c73r106"><circle cx="66.7" cy="2158.6"/></g><g id="c73r107"><circle cx="66.7" cy="2178.9"/></g><g id="c73r108"><circle cx="66.7" cy="2199.2"/></g><g id="c73r109"><circle cx="66.7" cy="2219.4"/></g><g id="c73r110"><circle cx="66.7" cy="2239.7"/></g><g id="c73r111"><circle cx="66.7" cy="2260"/></g><g id="c73r112"><circle cx="66.7" cy="2280.2"/></g>
<g id="c74r113"><circle cx="68" cy="2300.5"/></g><g id="c74r114"><circle cx="68" cy="2320.8"/></g>
<g id="c75r113"><circle cx="36.7" cy="2300.5"/></g><g id="c75r114"><circle cx="36.7" cy="2320.8"/></g>
<g id="c76r115"><circle cx="48" cy="2341.1"/></g><g id="c76r116"><circle cx="48" cy="2361.3"/></g>
<g id="c77r115"><circle cx="16.7" cy="2341.1"/></g><g id="c77r116"><circle cx="16.7" cy="2361.3"/></g>
<g id="c78r117"><circle cx="40.3" cy="2381.6"/></g><g id="c78r118"><circle cx="40.3" cy="2401.9"/></g>
<g id="c79r117"><circle cx="9.3" cy="2381.6"/></g><g id="c79r118"><circle cx="9.3" cy="2401.9"/></g><g id="c79r119"><circle cx="9.3" cy="2422.1"/></g><g id="c79r120"><circle cx="9.3" cy="2442.4"/></g>
<g id="c80r101"><circle cx="160.3" cy="2057.3"/></g><g id="c80r102"><circle cx="160.3" cy="2077.5"/></g><g id="c80r103"><circle cx="160.3" cy="2097.8"/></g><g id="c80r104"><circle cx="160.3" cy="2118.1"/></g><g id="c80r105"><circle cx="160.3" cy="2138.4"/></g><g id="c80r106"><circle cx="160.3" cy="2158.6"/></g><g id="c80r107"><circle cx="160.3" cy="2178.9"/></g><g id="c80r108"><circle cx="160.3" cy="2199.2"/></g><g id="c80r109"><circle cx="160.3" cy="2219.4"/></g><g id="c80r110"><circle cx="160.3" cy="2239.7"/></g><g id="c80r111"><circle cx="160.3" cy="2260"/></g><g id="c80r112"><circle cx="160.3" cy="2280.2"/></g>
<g id="c81r105"><circle cx="97.7" cy="2138.4"/></g><g id="c81r106"><circle cx="97.7" cy="2158.6"/></g><g id="c81r107"><circle cx="97.7" cy="2178.9"/></g><g id="c81r108"><circle cx="97.7" cy="2199.2"/></g>
<g id="c82r107"><circle cx="129" cy="2178.9"/></g><g id="c82r108"><circle cx="129" cy="2199.2"/></g>
<g id="c83r109"><circle cx="127.7" cy="2219.4"/></g>
<g id="c84r110"><circle cx="126.7" cy="2239.7"/></g>
<g id="c85r111"><circle cx="123.7" cy="2260"/></g>
<g id="c86r112"><circle cx="117.7" cy="2280.2"/></g><g id="c86r113"><circle cx="117.7" cy="2300.5"/></g>
<g id="c87r114"><circle cx="109" cy="2320.8"/></g>
<g id="c88r115"><circle cx="86.7" cy="2341.1"/></g><g id="c88r116"><circle cx="86.7" cy="2361.3"/></g><g id="c88r117"><circle cx="86.7" cy="2381.6"/></g><g id="c88r118"><circle cx="86.7" cy="2401.9"/></g><g id="c88r119"><circle cx="86.7" cy="2422.1"/></g><g id="c88r120"><circle cx="86.7" cy="2442.4"/></g>
<g id="c89r113"><circle cx="149" cy="2300.5"/></g><g id="c89r114"><circle cx="149" cy="2320.8"/></g><g id="c89r115"><circle cx="149" cy="2341.1"/></g><g id="c89r116"><circle cx="149" cy="2361.3"/></g><g id="c89r117"><circle cx="149" cy="2381.6"/></g><g id="c89r118"><circle cx="149" cy="2401.9"/></g><g id="c89r119"><circle cx="149" cy="2422.1"/></g><g id="c89r120"><circle cx="149" cy="2442.4"/></g>
<g id="c90r113"><circle cx="180" cy="2300.5"/></g><g id="c90r114"><circle cx="180" cy="2320.8"/></g><g id="c90r115"><circle cx="180" cy="2341.1"/></g><g id="c90r116"><circle cx="180" cy="2361.3"/></g><g id="c90r117"><circle cx="180" cy="2381.6"/></g><g id="c90r118"><circle cx="180" cy="2401.9"/></g><g id="c90r119"><circle cx="180" cy="2422.1"/></g><g id="c90r120"><circle cx="180" cy="2442.4"/></g><g id="c90r121"><circle cx="180" cy="2462.7"/></g><g id="c90r122"><circle cx="180" cy="2482.9"/></g>
<g id="c91r115"><circle cx="117.7" cy="2341.1"/></g><g id="c91r116"><circle cx="117.7" cy="2361.3"/></g><g id="c91r117"><circle cx="117.7" cy="2381.6"/></g><g id="c91r118"><circle cx="117.7" cy="2401.9"/></g><g id="c91r119"><circle cx="117.7" cy="2422.1"/></g><g id="c91r120"><circle cx="117.7" cy="2442.4"/></g><g id="c91r121"><circle cx="117.7" cy="2462.7"/></g><g id="c91r122"><circle cx="117.7" cy="2482.9"/></g><g id="c91r123"><circle cx="117.7" cy="2503.2"/></g><g id="c91r124"><circle cx="117.7" cy="2523.5"/></g><g id="c91r125"><circle cx="117.7" cy="2543.8"/></g><g id="c91r126"><circle cx="117.7" cy="2564"/></g><g id="c91r127"><circle cx="117.7" cy="2584.3"/></g><g id="c91r128"><circle cx="117.7" cy="2604.6"/></g><g id="c91r129"><circle cx="117.7" cy="2624.8"/></g><g id="c91r130"><circle cx="117.7" cy="2645.1"/></g><g id="c91r131"><circle cx="117.7" cy="2665.4"/></g><g id="c91r132"><circle cx="117.7" cy="2685.6"/></g><g id="c91r133"><circle cx="117.7" cy="2705.9"/></g><g id="c91r134"><circle cx="117.7" cy="2726.2"/></g><g id="c91r135"><circle cx="117.7" cy="2746.5"/></g><g id="c91r136"><circle cx="117.7" cy="2766.7"/></g><g id="c91r137"><circle cx="117.7" cy="2787"/></g><g id="c91r138"><circle cx="117.7" cy="2807.3"/></g><g id="c91r139"><circle cx="117.7" cy="2827.5"/></g><g id="c91r140"><circle cx="117.7" cy="2847.8"/></g><g id="c91r141"><circle cx="117.7" cy="2868.1"/></g><g id="c91r142"><circle cx="117.7" cy="2888.3"/></g>
<g id="c92r71"><circle cx="222.7" cy="1449.2"/></g><g id="c92r72"><circle cx="222.7" cy="1469.4"/></g><g id="c92r73"><circle cx="222.7" cy="1489.7"/></g><g id="c92r74"><circle cx="222.7" cy="1510"/></g><g id="c92r75"><circle cx="222.7" cy="1530.3"/></g><g id="c92r76"><circle cx="222.7" cy="1550.5"/></g><g id="c92r77"><circle cx="222.7" cy="1570.8"/></g><g id="c92r78"><circle cx="222.7" cy="1591.1"/></g><g id="c92r79"><circle cx="222.7" cy="1611.3"/></g><g id="c92r80"><circle cx="222.7" cy="1631.6"/></g><g id="c92r81"><circle cx="222.7" cy="1651.9"/></g><g id="c92r82"><circle cx="222.7" cy="1672.1"/></g><g id="c92r83"><circle cx="222.7" cy="1692.4"/></g><g id="c92r84"><circle cx="222.7" cy="1712.7"/></g><g id="c92r85"><circle cx="222.7" cy="1733"/></g><g id="c92r86"><circle cx="222.7" cy="1753.2"/></g><g id="c92r87"><circle cx="222.7" cy="1773.5"/></g><g id="c92r88"><circle cx="222.7" cy="1793.8"/></g>
<g id="c93r69"><circle cx="191.3" cy="1408.6"/></g><g id="c93r70"><circle cx="191.3" cy="1428.9"/></g><g id="c93r71"><circle cx="191.3" cy="1449.2"/></g><g id="c93r72"><circle cx="191.3" cy="1469.4"/></g><g id="c93r73"><circle cx="191.3" cy="1489.7"/></g><g id="c93r74"><circle cx="191.3" cy="1510"/></g>
<g id="c94r73"><circle cx="253.7" cy="1489.7"/></g><g id="c94r74"><circle cx="253.7" cy="1510"/></g><g id="c94r75"><circle cx="253.7" cy="1530.3"/></g><g id="c94r76"><circle cx="253.7" cy="1550.5"/></g><g id="c94r77"><circle cx="253.7" cy="1570.8"/></g><g id="c94r78"><circle cx="253.7" cy="1591.1"/></g>
<g id="c95r81"><circle cx="253.7" cy="1651.9"/></g><g id="c95r82"><circle cx="253.7" cy="1672.1"/></g>
<g id="c96r83"><circle cx="253.7" cy="1692.4"/></g><g id="c96r84"><circle cx="253.7" cy="1712.7"/></g>
<g id="c97r87"><circle cx="253.7" cy="1773.5"/></g><g id="c97r88"><circle cx="253.7" cy="1793.8"/></g><g id="c97r89"><circle cx="253.7" cy="1814"/></g><g id="c97r90"><circle cx="253.7" cy="1834.3"/></g>
<g id="c98r89"><circle cx="285" cy="1814"/></g><g id="c98r90"><circle cx="285" cy="1834.3"/></g><g id="c98r91"><circle cx="285" cy="1854.6"/></g><g id="c98r92"><circle cx="285" cy="1874.8"/></g>
<g id="c99r95"><circle cx="160.3" cy="1935.7"/></g><g id="c99r96"><circle cx="160.3" cy="1955.9"/></g>
<g id="c100r95"><circle cx="191.3" cy="1935.7"/></g><g id="c100r96"><circle cx="191.3" cy="1955.9"/></g>
<g id="c101r95"><circle cx="222.7" cy="1935.7"/></g><g id="c101r96"><circle cx="222.7" cy="1955.9"/></g><g id="c101r97"><circle cx="222.7" cy="1976.2"/></g><g id="c101r98"><circle cx="222.7" cy="1996.5"/></g>
<g id="c102r97"><circle cx="253.7" cy="1976.2"/></g><g id="c102r98"><circle cx="253.7" cy="1996.5"/></g><g id="c102r99"><circle cx="253.7" cy="2016.7"/></g><g id="c102r100"><circle cx="253.7" cy="2037"/></g>
<g id="c103r101"><circle cx="255" cy="2057.3"/></g>
<g id="c104r102"><circle cx="260" cy="2077.5"/></g>
<g id="c105r103"><circle cx="262.3" cy="2097.8"/></g>
<g id="c106r104"><circle cx="263.7" cy="2118.1"/></g><g id="c106r105"><circle cx="263.7" cy="2138.4"/></g><g id="c106r106"><circle cx="263.7" cy="2158.6"/></g><g id="c106r107"><circle cx="263.7" cy="2178.9"/></g><g id="c106r108"><circle cx="263.7" cy="2199.2"/></g><g id="c106r109"><circle cx="263.7" cy="2219.4"/></g><g id="c106r110"><circle cx="263.7" cy="2239.7"/></g>
<g id="c107r109"><circle cx="294.7" cy="2219.4"/></g>
<g id="c108r110"><circle cx="303.3" cy="2239.7"/></g>
<g id="c109r111"><circle cx="288.7" cy="2260"/></g><g id="c109r112"><circle cx="288.7" cy="2280.2"/></g><g id="c109r113"><circle cx="288.7" cy="2300.5"/></g><g id="c109r114"><circle cx="288.7" cy="2320.8"/></g>
<g id="c110r111"><circle cx="319.7" cy="2260"/></g><g id="c110r112"><circle cx="319.7" cy="2280.2"/></g><g id="c110r113"><circle cx="319.7" cy="2300.5"/></g><g id="c110r114"><circle cx="319.7" cy="2320.8"/></g>
<g id="c111r111"><circle cx="351" cy="2260"/></g><g id="c111r112"><circle cx="351" cy="2280.2"/></g>
<g id="c112r113"><circle cx="351" cy="2300.5"/></g><g id="c112r114"><circle cx="351" cy="2320.8"/></g>
<g id="c113r115"><circle cx="367" cy="2341.1"/></g>
<g id="c114r116"><circle cx="382" cy="2361.3"/></g><g id="c114r117"><circle cx="382" cy="2381.6"/></g><g id="c114r118"><circle cx="382" cy="2401.9"/></g><g id="c114r119"><circle cx="382" cy="2422.1"/></g><g id="c114r120"><circle cx="382" cy="2442.4"/></g><g id="c114r121"><circle cx="382" cy="2462.7"/></g><g id="c114r122"><circle cx="382" cy="2482.9"/></g><g id="c114r123"><circle cx="382" cy="2503.2"/></g><g id="c114r124"><circle cx="382" cy="2523.5"/></g><g id="c114r125"><circle cx="382" cy="2543.8"/></g><g id="c114r126"><circle cx="382" cy="2564"/></g>
<g id="c115r117"><circle cx="413.3" cy="2381.6"/></g><g id="c115r118"><circle cx="413.3" cy="2401.9"/></g><g id="c115r119"><circle cx="413.3" cy="2422.1"/></g><g id="c115r120"><circle cx="413.3" cy="2442.4"/></g>
<g id="c116r119"><circle cx="444.3" cy="2422.1"/></g><g id="c116r120"><circle cx="444.3" cy="2442.4"/></g>
<g id="c117r121"><circle cx="413.3" cy="2462.7"/></g><g id="c117r122"><circle cx="413.3" cy="2482.9"/></g><g id="c117r123"><circle cx="413.3" cy="2503.2"/></g><g id="c117r124"><circle cx="413.3" cy="2523.5"/></g><g id="c117r125"><circle cx="413.3" cy="2543.8"/></g><g id="c117r126"><circle cx="413.3" cy="2564"/></g>
<g id="c118r123"><circle cx="444.3" cy="2503.2"/></g><g id="c118r124"><circle cx="444.3" cy="2523.5"/></g><g id="c118r125"><circle cx="444.3" cy="2543.8"/></g><g id="c118r126"><circle cx="444.3" cy="2564"/></g>
<g id="c119r127"><circle cx="428.3" cy="2584.3"/></g><g id="c119r128"><circle cx="428.3" cy="2604.6"/></g>
<g id="c120r127"><circle cx="459.3" cy="2584.3"/></g><g id="c120r128"><circle cx="459.3" cy="2604.6"/></g>
<g id="c121r129"><circle cx="474.3" cy="2624.8"/></g><g id="c121r130"><circle cx="474.3" cy="2645.1"/></g><g id="c121r131"><circle cx="474.3" cy="2665.4"/></g><g id="c121r132"><circle cx="474.3" cy="2685.6"/></g><g id="c121r133"><circle cx="474.3" cy="2705.9"/></g><g id="c121r134"><circle cx="474.3" cy="2726.2"/></g>
<g id="c122r129"><circle cx="443" cy="2624.8"/></g><g id="c122r130"><circle cx="443" cy="2645.1"/></g><g id="c122r131"><circle cx="443" cy="2665.4"/></g><g id="c122r132"><circle cx="443" cy="2685.6"/></g><g id="c122r133"><circle cx="443" cy="2705.9"/></g><g id="c122r134"><circle cx="443" cy="2726.2"/></g>
<g id="c123r133"><circle cx="407" cy="2705.9"/></g>
<g id="c124r134"><circle cx="403.3" cy="2726.2"/></g>
<g id="c125r135"><circle cx="388.3" cy="2746.5"/></g><g id="c125r136"><circle cx="388.3" cy="2766.7"/></g>
<g id="c126r135"><circle cx="419.3" cy="2746.5"/></g><g id="c126r136"><circle cx="419.3" cy="2766.7"/></g>
<g id="c127r135"><circle cx="450.7" cy="2746.5"/></g><g id="c127r136"><circle cx="450.7" cy="2766.7"/></g><g id="c127r137"><circle cx="450.7" cy="2787"/></g><g id="c127r138"><circle cx="450.7" cy="2807.3"/></g><g id="c127r139"><circle cx="450.7" cy="2827.5"/></g><g id="c127r140"><circle cx="450.7" cy="2847.8"/></g><g id="c127r141"><circle cx="450.7" cy="2868.1"/></g><g id="c127r142"><circle cx="450.7" cy="2888.3"/></g>
<g id="c128r135"><circle cx="482" cy="2746.5"/></g><g id="c128r136"><circle cx="482" cy="2766.7"/></g><g id="c128r137"><circle cx="482" cy="2787"/></g><g id="c128r138"><circle cx="482" cy="2807.3"/></g><g id="c128r139"><circle cx="482" cy="2827.5"/></g><g id="c128r140"><circle cx="482" cy="2847.8"/></g><g id="c128r141"><circle cx="482" cy="2868.1"/></g><g id="c128r142"><circle cx="482" cy="2888.3"/></g>
<g id="c129r137"><circle cx="513.3" cy="2787"/></g><g id="c129r138"><circle cx="513.3" cy="2807.3"/></g>
<g id="c130r143"><circle cx="465.7" cy="2908.6"/></g><g id="c130r144"><circle cx="465.7" cy="2928.9"/></g>
<g id="c131r143"><circle cx="496.7" cy="2908.6"/></g><g id="c131r144"><circle cx="496.7" cy="2928.9"/></g>
<g id="c132r145"><circle cx="450.7" cy="2949.2"/></g><g id="c132r146"><circle cx="450.7" cy="2969.4"/></g><g id="c132r147"><circle cx="450.7" cy="2989.7"/></g><g id="c132r148"><circle cx="450.7" cy="3010"/></g><g id="c132r149"><circle cx="450.7" cy="3030.2"/></g><g id="c132r150"><circle cx="450.7" cy="3050.5"/></g><g id="c132r151"><circle cx="450.7" cy="3070.8"/></g><g id="c132r152"><circle cx="450.7" cy="3091"/></g><g id="c132r153"><circle cx="450.7" cy="3111.3"/></g><g id="c132r154"><circle cx="450.7" cy="3131.6"/></g>
<g id="c133r145"><circle cx="482" cy="2949.2"/></g><g id="c133r146"><circle cx="482" cy="2969.4"/></g>
<g id="c134r155"><circle cx="419.3" cy="3151.9"/></g><g id="c134r156"><circle cx="419.3" cy="3172.1"/></g><g id="c134r157"><circle cx="419.3" cy="3192.4"/></g><g id="c134r158"><circle cx="419.3" cy="3212.7"/></g><g id="c134r159"><circle cx="419.3" cy="3232.9"/></g><g id="c134r160"><circle cx="419.3" cy="3253.2"/></g><g id="c134r161"><circle cx="419.3" cy="3273.5"/></g><g id="c134r162"><circle cx="419.3" cy="3293.7"/></g>
<g id="c135r155"><circle cx="450.7" cy="3151.9"/></g><g id="c135r156"><circle cx="450.7" cy="3172.1"/></g>
<g id="c136r155"><circle cx="482" cy="3151.9"/></g><g id="c136r156"><circle cx="482" cy="3172.1"/></g><g id="c136r157"><circle cx="482" cy="3192.4"/></g><g id="c136r158"><circle cx="482" cy="3212.7"/></g>
<g id="c137r115"><circle cx="273.3" cy="2341.1"/></g><g id="c137r116"><circle cx="273.3" cy="2361.3"/></g><g id="c137r117"><circle cx="273.3" cy="2381.6"/></g><g id="c137r118"><circle cx="273.3" cy="2401.9"/></g><g id="c137r119"><circle cx="273.3" cy="2422.1"/></g><g id="c137r120"><circle cx="273.3" cy="2442.4"/></g><g id="c137r121"><circle cx="273.3" cy="2462.7"/></g><g id="c137r122"><circle cx="273.3" cy="2482.9"/></g><g id="c137r123"><circle cx="273.3" cy="2503.2"/></g><g id="c137r124"><circle cx="273.3" cy="2523.5"/></g>
<g id="c138r115"><circle cx="304.7" cy="2341.1"/></g><g id="c138r116"><circle cx="304.7" cy="2361.3"/></g><g id="c138r117"><circle cx="304.7" cy="2381.6"/></g><g id="c138r118"><circle cx="304.7" cy="2401.9"/></g><g id="c138r119"><circle cx="304.7" cy="2422.1"/></g><g id="c138r120"><circle cx="304.7" cy="2442.4"/></g><g id="c138r121"><circle cx="304.7" cy="2462.7"/></g><g id="c138r122"><circle cx="304.7" cy="2482.9"/></g><g id="c138r123"><circle cx="304.7" cy="2503.2"/></g><g id="c138r124"><circle cx="304.7" cy="2523.5"/></g>
<g id="c139r121"><circle cx="336" cy="2462.7"/></g><g id="c139r122"><circle cx="336" cy="2482.9"/></g><g id="c139r123"><circle cx="336" cy="2503.2"/></g><g id="c139r124"><circle cx="336" cy="2523.5"/></g>
<g id="c140r125"><circle cx="319.7" cy="2543.8"/></g><g id="c140r126"><circle cx="319.7" cy="2564"/></g>
<g id="c141r125"><circle cx="351" cy="2543.8"/></g><g id="c141r126"><circle cx="351" cy="2564"/></g><g id="c141r127"><circle cx="351" cy="2584.3"/></g><g id="c141r128"><circle cx="351" cy="2604.6"/></g><g id="c141r129"><circle cx="351" cy="2624.8"/></g><g id="c141r130"><circle cx="351" cy="2645.1"/></g><g id="c141r131"><circle cx="351" cy="2665.4"/></g><g id="c141r132"><circle cx="351" cy="2685.6"/></g>
<g id="c142r125"><circle cx="288.7" cy="2543.8"/></g><g id="c142r126"><circle cx="288.7" cy="2564"/></g><g id="c142r127"><circle cx="288.7" cy="2584.3"/></g><g id="c142r128"><circle cx="288.7" cy="2604.6"/></g><g id="c142r129"><circle cx="288.7" cy="2624.8"/></g><g id="c142r130"><circle cx="288.7" cy="2645.1"/></g><g id="c142r131"><circle cx="288.7" cy="2665.4"/></g><g id="c142r132"><circle cx="288.7" cy="2685.6"/></g><g id="c142r133"><circle cx="288.7" cy="2705.9"/></g><g id="c142r134"><circle cx="288.7" cy="2726.2"/></g>
<g id="c143r129"><circle cx="257.3" cy="2624.8"/></g><g id="c143r130"><circle cx="257.3" cy="2645.1"/></g><g id="c143r131"><circle cx="257.3" cy="2665.4"/></g><g id="c143r132"><circle cx="257.3" cy="2685.6"/></g>
<g id="c144r131"><circle cx="319.7" cy="2665.4"/></g><g id="c144r132"><circle cx="319.7" cy="2685.6"/></g>
<g id="c145r131"><circle cx="226.3" cy="2665.4"/></g><g id="c145r132"><circle cx="226.3" cy="2685.6"/></g>
<g id="c146r133"><circle cx="209.7" cy="2705.9"/></g><g id="c146r134"><circle cx="209.7" cy="2726.2"/></g>
<g id="c147r133"><circle cx="241" cy="2705.9"/></g><g id="c147r134"><circle cx="241" cy="2726.2"/></g><g id="c147r135"><circle cx="241" cy="2746.5"/></g><g id="c147r136"><circle cx="241" cy="2766.7"/></g><g id="c147r137"><circle cx="241" cy="2787"/></g><g id="c147r138"><circle cx="241" cy="2807.3"/></g><g id="c147r139"><circle cx="241" cy="2827.5"/></g><g id="c147r140"><circle cx="241" cy="2847.8"/></g>
<g id="c148r117"><circle cx="242.3" cy="2381.6"/></g><g id="c148r118"><circle cx="242.3" cy="2401.9"/></g><g id="c148r119"><circle cx="242.3" cy="2422.1"/></g><g id="c148r120"><circle cx="242.3" cy="2442.4"/></g>
<g id="c149r119"><circle cx="211.3" cy="2422.1"/></g><g id="c149r120"><circle cx="211.3" cy="2442.4"/></g>
<g id="c150r121"><circle cx="211.3" cy="2462.7"/></g><g id="c150r122"><circle cx="211.3" cy="2482.9"/></g><g id="c150r123"><circle cx="211.3" cy="2503.2"/></g><g id="c150r124"><circle cx="211.3" cy="2523.5"/></g><g id="c150r125"><circle cx="211.3" cy="2543.8"/></g><g id="c150r126"><circle cx="211.3" cy="2564"/></g>
<g id="c151r121"><circle cx="242.3" cy="2462.7"/></g><g id="c151r122"><circle cx="242.3" cy="2482.9"/></g>
</g>
</svg>
